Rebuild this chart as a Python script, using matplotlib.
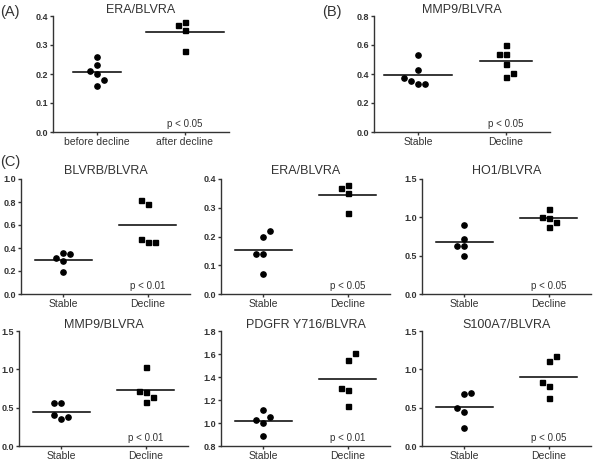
import numpy as np
import matplotlib
matplotlib.use('Agg')
import matplotlib.pyplot as plt

plt.rcParams['font.family'] = ['Liberation Sans', 'DejaVu Sans']

# data
cats_a = ['before decline', 'after decline']
cats = ['Stable', 'Decline']

era_before = [0.16, 0.20, 0.26, 0.23, 0.21, 0.18]
era_after = [0.28, 0.35, 0.38, 0.37]

mmp9_stable_b = [0.53, 0.43, 0.33, 0.35, 0.33, 0.37]
mmp9_decline_b = [0.60, 0.54, 0.54, 0.47, 0.38, 0.41]

blvrb_stable = [0.19, 0.29, 0.36, 0.31, 0.35]
blvrb_decline = [0.45, 0.48, 0.45, 0.78, 0.82]
era_stable = [0.07, 0.14, 0.14, 0.20, 0.22]
era_decline = [0.28, 0.35, 0.38, 0.37]
ho1_stable = [0.50, 0.62, 0.62, 0.72, 0.90]
ho1_decline = [0.88, 0.99, 1.11, 1.01, 0.94]
mmp9_stable = [0.35, 0.40, 0.38, 0.56, 0.56]
mmp9_decline = [0.58, 0.70, 1.03, 0.72, 0.64]
pdgfr_stable = [0.89, 1.00, 1.11, 1.03, 1.05]
pdgfr_decline = [1.15, 1.29, 1.55, 1.30, 1.61]
s100_stable = [0.24, 0.45, 0.50, 0.68, 0.69]
s100_decline = [0.62, 0.78, 1.11, 0.84, 1.17]

titles = ['ERA/BLVRA', 'MMP9/BLVRA', 'BLVRB/BLVRA', 'ERA/BLVRA', 'HO1/BLVRA',
          'MMP9/BLVRA', 'PDGFR Y716/BLVRA', 'S100A7/BLVRA']
p_text = ['p < 0.05', 'p < 0.05', 'p < 0.01', 'p < 0.05', 'p < 0.05',
          'p < 0.01', 'p < 0.01', 'p < 0.05']
groups = [(era_before, era_after), (mmp9_stable_b, mmp9_decline_b),
          (blvrb_stable, blvrb_decline), (era_stable, era_decline),
          (ho1_stable, ho1_decline), (mmp9_stable, mmp9_decline),
          (pdgfr_stable, pdgfr_decline), (s100_stable, s100_decline)]
yticks = [np.arange(0, 0.41, 0.1), np.arange(0, 0.81, 0.2), np.arange(0, 1.01, 0.2),
          np.arange(0, 0.41, 0.1), np.arange(0, 1.51, 0.5), np.arange(0, 1.51, 0.5),
          np.arange(0.8, 1.81, 0.2), np.arange(0, 1.51, 0.5)]

# layout in pixels: left, top, right, bottom
W, H = 600, 461
rects = [(53, 16, 229, 132), (374, 16, 550, 132),
         (21, 179, 190, 294), (221, 179, 390, 294), (422, 179, 591, 294),
         (19, 331, 188, 446), (221, 331, 390, 446), (422, 331, 591, 446)]
half_len = [(0.27, 0.44), (0.39, 0.30)] + [(0.34, 0.34)] * 6
title_pad = [2.0, 2.0, 3.5, 3.5, 3.5, 2.0, 2.0, 2.0]

fig = plt.figure(figsize=(6, 4.61), dpi=100)
dark = '#333333'


def swarm(vals, px_unit, gap=7.4):
    placed = []
    for v in vals:
        def free(s):
            return all(abs(v - pv) * px_unit >= gap for ps, pv in placed if ps == s)
        s = 0
        if not free(0):
            k = 1
            while True:
                fl, fr = free(-k), free(k)
                if fl and fr:
                    nl = sum(1 for ps, _ in placed if ps < 0)
                    nr = sum(1 for ps, _ in placed if ps > 0)
                    s = k if nr < nl else -k
                    break
                if fl:
                    s = -k
                    break
                if fr:
                    s = k
                    break
                k += 1
        placed.append((s, v))
    return np.array([p[0] for p in placed])


for i, (l, t, r, b) in enumerate(rects):
    ax = fig.add_axes([l / W, 1 - b / H, (r - l) / W, (b - t) / H])
    yt = yticks[i]
    ymin, ymax = yt[0], yt[-1]
    ax.set_xlim(0.5, 2.5)
    ax.set_ylim(ymin, ymax)
    px_y = (b - t) / (ymax - ymin)
    px_x = (r - l) / 2.0
    for j, vals in enumerate(groups[i]):
        vals = np.array(vals)
        off = swarm(vals, px_y) * 7.0 / px_x
        ax.plot(j + 1 + off, vals, linestyle='none', marker='o' if j == 0 else 's',
                markersize=3.8 if j == 0 else 3.6, color='black', clip_on=False)
        m = vals.mean()
        hl = half_len[i][j]
        ax.plot([j + 1 - hl, j + 1 + hl], [m, m], color='black', lw=1.1)
    ax.set_yticks(yt)
    ax.set_yticklabels(['%.1f' % v for v in yt], fontsize=6.5, fontweight='bold', color=dark)
    ax.set_xticks([1, 2])
    ax.set_xticklabels(cats_a if i == 0 else cats, fontsize=7.5, color=dark)
    ax.tick_params(axis='y', length=2.5, width=1, pad=1, color=dark)
    ax.tick_params(axis='x', length=2, width=1, pad=1.5, color=dark)
    for sp in ['top', 'right']:
        ax.spines[sp].set_visible(False)
    for sp in ['left', 'bottom']:
        ax.spines[sp].set_linewidth(1.0)
        ax.spines[sp].set_color(dark)
    ax.set_title(titles[i], fontsize=9, color=dark, pad=title_pad[i])
    ax.text(2, ymin + 0.07 * (ymax - ymin), p_text[i], fontsize=7, color=dark,
            ha='center', va='center')

fig.text(0 / W, 1 - 12 / H, '(A)', fontsize=10.5, color=dark, va='center', ha='left')
fig.text(322 / W, 1 - 12 / H, '(B)', fontsize=10.5, color=dark, va='center', ha='left')
fig.text(0 / W, 1 - 162 / H, '(C)', fontsize=10.5, color=dark, va='center', ha='left')

fig.savefig('out.png', dpi=100)
